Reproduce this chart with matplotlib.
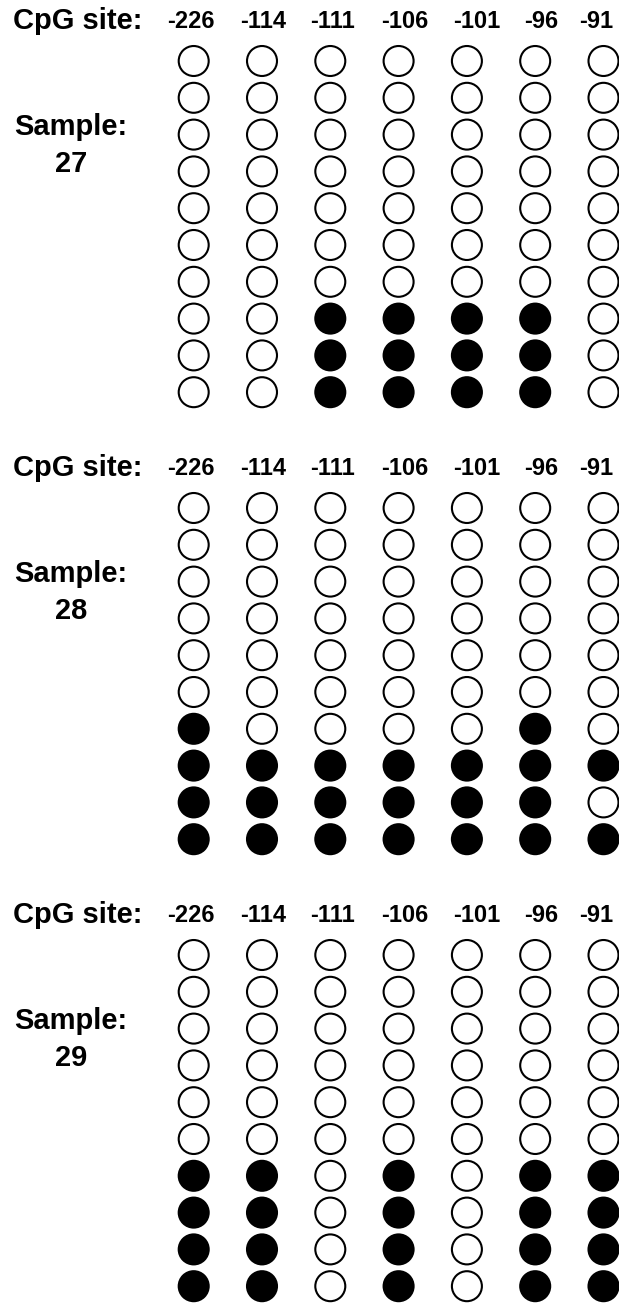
import numpy as np
import matplotlib
matplotlib.use("Agg")
import matplotlib.pyplot as plt

# ------ DATA ------
cpg_sites = ["-226", "-114", "-111", "-106", "-101", "-96", "-91"]
samples = ["27", "28", "29"]

# 1 = methylated (filled), 0 = unmethylated (open); rows = clones, cols = CpG sites
sample_27 = [
    [0, 0, 0, 0, 0, 0, 0],
    [0, 0, 0, 0, 0, 0, 0],
    [0, 0, 0, 0, 0, 0, 0],
    [0, 0, 0, 0, 0, 0, 0],
    [0, 0, 0, 0, 0, 0, 0],
    [0, 0, 0, 0, 0, 0, 0],
    [0, 0, 0, 0, 0, 0, 0],
    [0, 0, 1, 1, 1, 1, 0],
    [0, 0, 1, 1, 1, 1, 0],
    [0, 0, 1, 1, 1, 1, 0],
]
sample_28 = [
    [0, 0, 0, 0, 0, 0, 0],
    [0, 0, 0, 0, 0, 0, 0],
    [0, 0, 0, 0, 0, 0, 0],
    [0, 0, 0, 0, 0, 0, 0],
    [0, 0, 0, 0, 0, 0, 0],
    [0, 0, 0, 0, 0, 0, 0],
    [1, 0, 0, 0, 0, 1, 0],
    [1, 1, 1, 1, 1, 1, 1],
    [1, 1, 1, 1, 1, 1, 0],
    [1, 1, 1, 1, 1, 1, 1],
]
sample_29 = [
    [0, 0, 0, 0, 0, 0, 0],
    [0, 0, 0, 0, 0, 0, 0],
    [0, 0, 0, 0, 0, 0, 0],
    [0, 0, 0, 0, 0, 0, 0],
    [0, 0, 0, 0, 0, 0, 0],
    [0, 0, 0, 0, 0, 0, 0],
    [1, 1, 0, 1, 0, 1, 1],
    [1, 1, 0, 1, 0, 1, 1],
    [1, 1, 0, 1, 0, 1, 1],
    [1, 1, 0, 1, 0, 1, 1],
]
panels = [sample_27, sample_28, sample_29]

# ------ LAYOUT (pixels) ------
W, H = 619, 1304
col_x0, col_dx = 193.7, 68.3
row_dy = 36.8
first_rows = [61, 508, 955]
# header labels are not exactly centred over their columns in the original
label_shift = [-3, 1, 2, 6, 10, 6, -7]

plt.rcParams['font.family'] = ['Liberation Sans', 'DejaVu Sans']
fig = plt.figure(figsize=(W / 100, H / 100), dpi=100)

for label, grid, y0 in zip(samples, panels, first_rows):
    grid = np.array(grid)
    nrow, ncol = grid.shape
    left = col_x0 - col_dx / 2
    top = y0 - row_dy / 2
    ax = fig.add_axes([left / W, 1 - (top + nrow * row_dy) / H,
                       ncol * col_dx / W, nrow * row_dy / H])
    ax.set_xlim(-0.5, ncol - 0.5)
    ax.set_ylim(nrow - 0.5, -0.5)
    ax.axis("off")

    yy, xx = np.mgrid[0:nrow, 0:ncol]
    colors = np.where(grid.ravel() == 1, "black", "white")
    ax.scatter(xx.ravel(), yy.ravel(), s=466, c=colors, edgecolors="black",
               linewidths=1.5, clip_on=False, zorder=3)

    # header
    hy = -1.08
    for i, site in enumerate(cpg_sites):
        ax.text(i + label_shift[i] / col_dx, hy, site, ha="center",
                va="center", fontsize=17, fontweight="bold", clip_on=False)
    ax.text((13 - col_x0) / col_dx, hy, "CpG site:", ha="left", va="center",
            fontsize=21, fontweight="bold", clip_on=False)
    ax.text((71 - col_x0) / col_dx, 66 / row_dy, "Sample:", ha="center",
            va="center", fontsize=21, fontweight="bold", clip_on=False)
    ax.text((71 - col_x0) / col_dx, 103 / row_dy, label, ha="center",
            va="center", fontsize=21, fontweight="bold", clip_on=False)

fig.savefig("out.png", dpi=100, facecolor="white")
